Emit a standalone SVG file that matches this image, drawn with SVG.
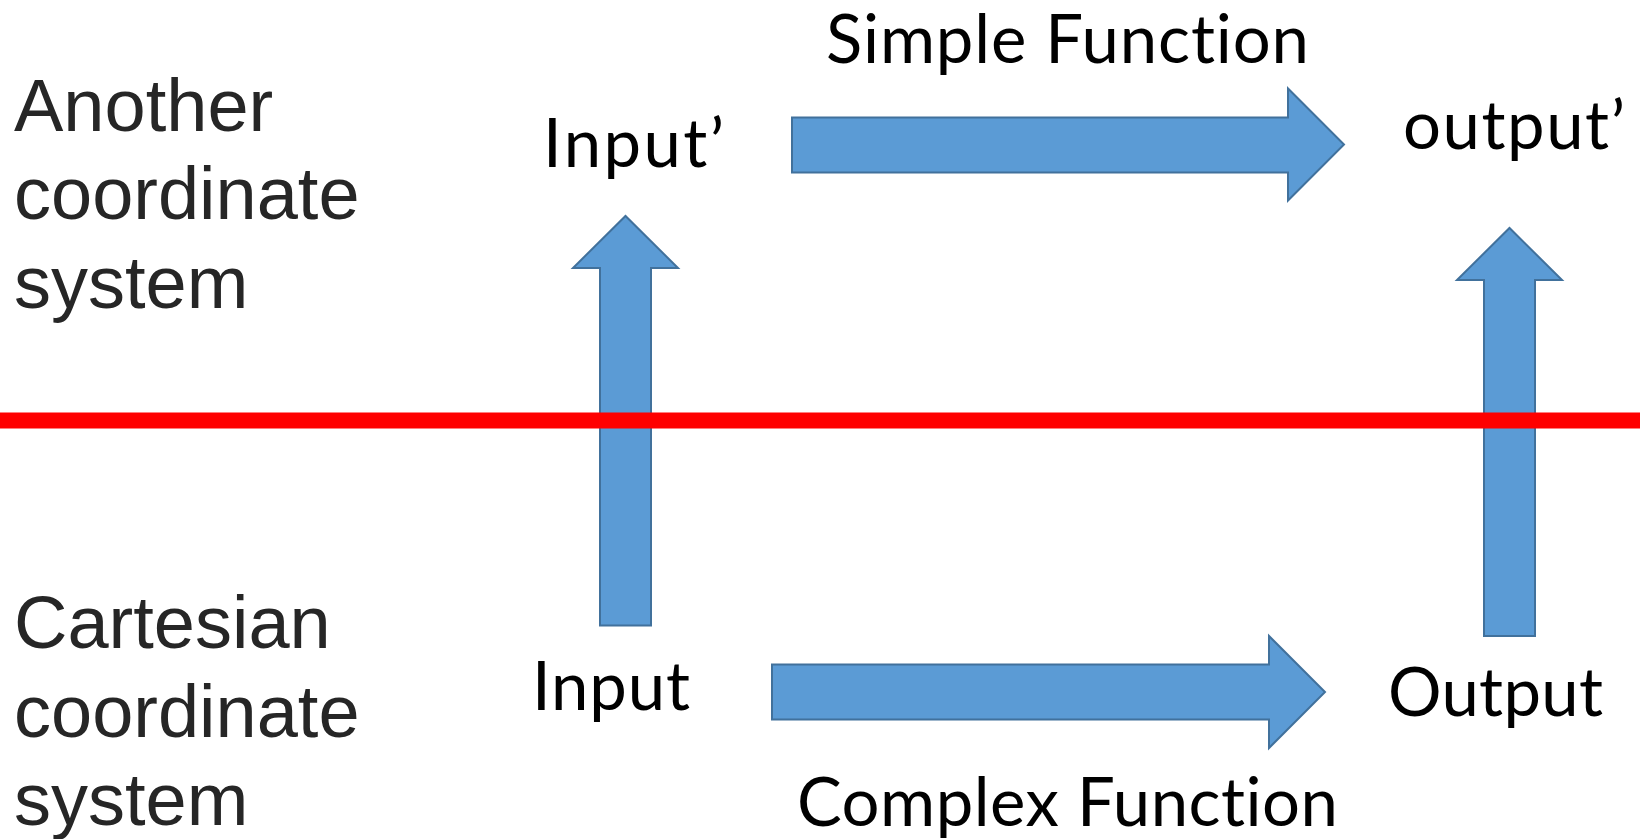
<svg xmlns="http://www.w3.org/2000/svg" width="1640" height="839" viewBox="0 0 1640 839">
  <style>
    .side { font-family: "Liberation Sans", Arial, sans-serif; font-size: 74px; fill: #262626; }
    .lbl { font-family: Lato, "Open Sans", sans-serif; font-size: 67px; fill: #000000; font-variant-ligatures: none; }
    .arrow { fill: #5B9BD5; stroke: #41719C; stroke-width: 2; stroke-linejoin: miter; }
    .divider { stroke: #FF0000; stroke-width: 16; }
  </style>

  <rect width="1640" height="839" fill="#FFFFFF"/>

  <!-- coordinate system captions -->
  <g id="caption-another">
    <text class="side" x="14" y="131">Another</text>
    <text class="side" x="14" y="219">coordinate</text>
    <text class="side" x="14" y="308">system</text>
  </g>
  <g id="caption-cartesian">
    <text class="side" x="14" y="648">Cartesian</text>
    <text class="side" x="14" y="737">coordinate</text>
    <text class="side" x="14" y="825">system</text>
  </g>

  <!-- value nodes -->
  <g id="node-input-prime">
    <text class="lbl" x="543" y="167" textLength="181">Input’</text>
  </g>
  <g id="node-output-prime">
    <text class="lbl" x="1403" y="149" textLength="222">output’</text>
  </g>
  <g id="node-input">
    <text class="lbl" x="532" y="710" textLength="158">Input</text>
  </g>
  <g id="node-output">
    <text class="lbl" x="1388" y="716" textLength="215">Output</text>
  </g>

  <!-- block arrows -->
  <g id="connectors">
    <g id="simple-function">
      <polygon class="arrow" points="792,117.5 1288,117.5 1288,88.5 1344,144.5 1288,200.5 1288,172.5 792,172.5"/>
      <text class="lbl" x="826" y="63" textLength="483">Simple Function</text>
    </g>
    <g id="complex-function">
      <polygon class="arrow" points="772,664.5 1269,664.5 1269,636 1325,692 1269,748 1269,719.5 772,719.5"/>
      <text class="lbl" x="797" y="826" textLength="541">Complex Function</text>
    </g>
    <polygon id="lift-input" class="arrow" points="600,625.5 651,625.5 651,268 678,268 625.5,216 573,268 600,268"/>
    <polygon id="lift-output" class="arrow" points="1484,636 1535,636 1535,280 1562,280 1509.5,228 1457,280 1484,280"/>
  </g>

  <!-- boundary between the two coordinate systems -->
  <line class="divider" x1="0" y1="420.5" x2="1640" y2="420.5"/>
</svg>
